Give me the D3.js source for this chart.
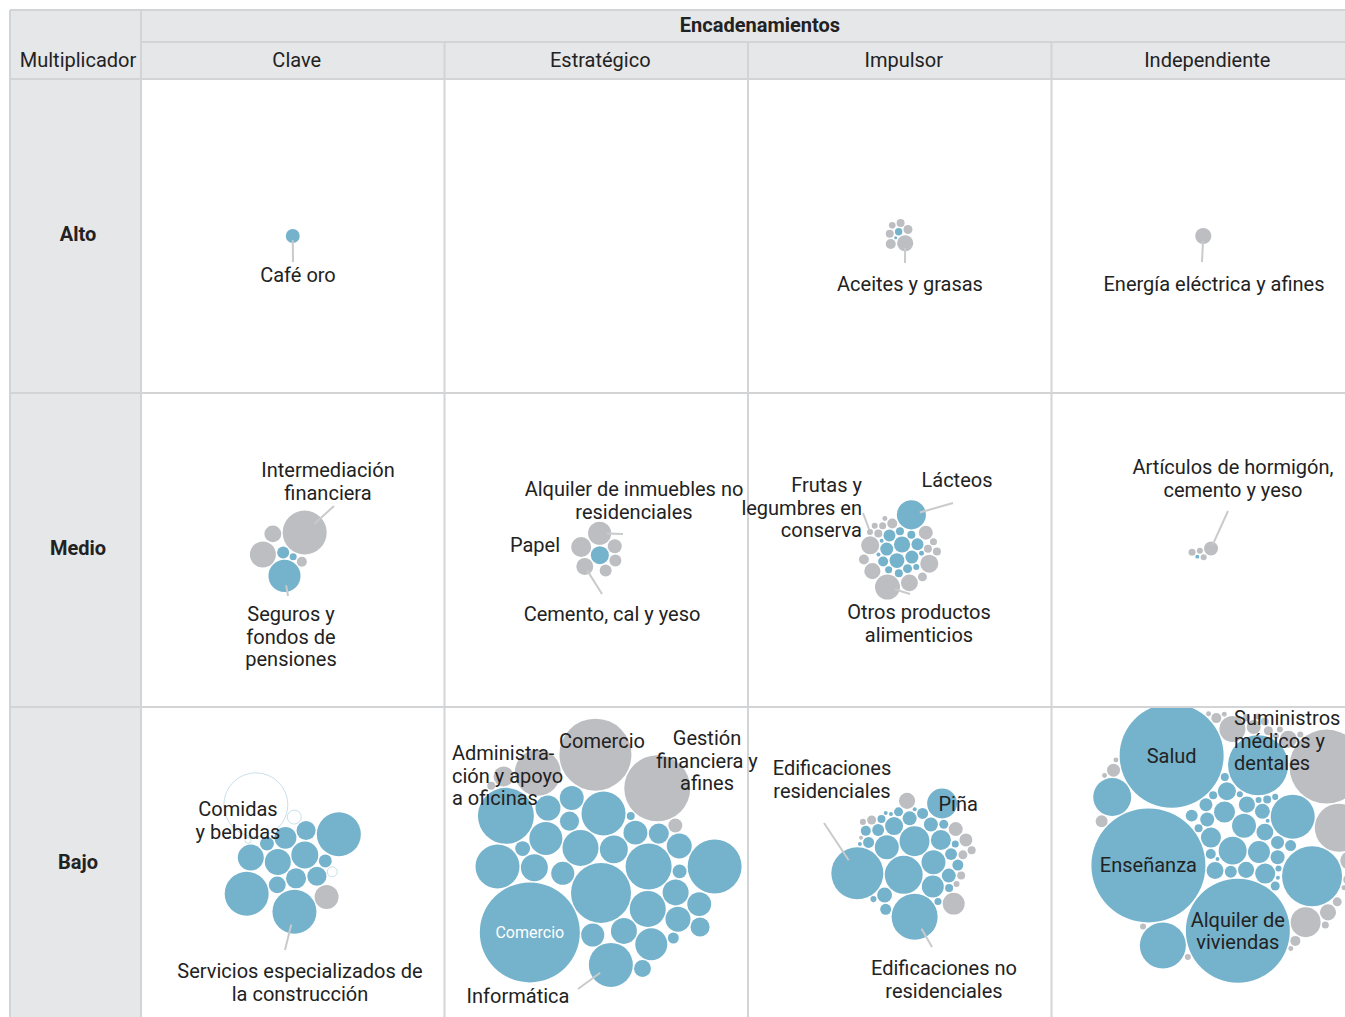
<!DOCTYPE html>
<html>
<head>
<meta charset="utf-8">
<script src="https://cdn.jsdelivr.net/npm/d3@7"></script>
<style>
body { margin: 0; background: #fff; }
text { font-family: Roboto, "Noto Sans", sans-serif; fill: #222; }
</style>
</head>
<body>
<svg id="chart" width="1345" height="1017"></svg>
<script>
const filas = ["Alto", "Medio", "Bajo"];
const columnas = ["Clave", "Estratégico", "Impulsor", "Independiente"];

// [sector, valor, tipo]  b = azul, g = gris, w = en transición (blanco)
const altoClave = [["Café oro", 1.5, "b"]];
const altoEstrategico = [];
const altoImpulsor = [["", 0.42, "b"], ["", 0.07, "b"], ["", 0.77, "g"], ["", 0.49, "g"], ["", 0.34, "g"], ["", 0.49, "g"], ["", 0.62, "g"], ["Aceites y grasas", 2.0, "g"]];
const altoIndependiente = [["Energía eléctrica y afines", 2.0, "g"]];

const medioClave = [["", 1.1, "b"], ["", 0.38, "b"], ["Seguros y fondos de pensiones", 7.9, "b"], ["Intermediación financiera", 14.9, "g"], ["", 5.2, "g"], ["", 2.2, "g"], ["", 0.77, "g"]];
const medioEstrategico = [["", 2.5, "b"], ["Alquiler de inmuebles no residenciales", 4.1, "g"], ["", 1.1, "g"], ["Cemento, cal y yeso", 2.2, "g"], ["", 1.5, "g"], ["Papel", 3.1, "g"], ["", 1.1, "g"]];
const medioImpulsor = [
    ["", 2.0, "b"], ["", 1.7, "b"], ["", 1.3, "b"], ["", 1.3, "b"], ["", 1.1, "b"], ["", 1.1, "b"], ["", 0.77, "b"], ["", 0.62, "b"],
    ["", 0.49, "b"], ["", 0.49, "b"], ["", 0.49, "b"], ["", 0.38, "b"], ["", 0.28, "b"], ["", 0.19, "b"], ["", 0.12, "b"], ["", 0.12, "b"], ["Lácteos", 6.5, "b"],
    ["Otros productos alimenticios", 4.8, "g"], ["", 2.5, "g"], ["", 2.5, "g"], ["", 2.2, "g"], ["", 2.0, "g"], ["", 1.5, "g"], ["", 0.77, "g"], ["", 0.77, "g"],
    ["", 0.62, "g"], ["", 0.49, "g"], ["", 0.49, "g"], ["", 0.49, "g"], ["", 0.38, "g"], ["", 0.38, "g"], ["Frutas y legumbres en conserva", 0.28, "g"], ["", 0.28, "g"], ["", 0.19, "g"]
];
const medioIndependiente = [["", 0.12, "b"], ["", 0.28, "g"], ["", 0.28, "g"], ["", 0.38, "g"], ["Artículos de hormigón, cemento y yeso", 1.5, "g"]];

const bajoClave = [
    ["", 5.6, "b"], ["", 5.2, "b"], ["", 3.7, "b"], ["", 3.1, "b"], ["", 2.8, "b"], ["", 2.8, "b"], ["", 2.2, "b"], ["", 1.5, "b"], ["", 1.3, "b"], ["", 5.2, "b"],
    ["", 14.9, "b"], ["", 14.9, "b"], ["Servicios especializados de la construcción", 14.9, "b"],
    ["", 4.4, "g"],
    ["Comidas y bebidas", 31.5, "w"], ["", 1.5, "w"], ["", 0.77, "w"], ["", 0.28, "w"]
];
const bajoEstrategico = [
    ["", 27.7, "b"], ["", 16.3, "b"], ["", 10, "b"], ["", 10, "b"], ["", 8.4, "b"], ["", 7.9, "b"], ["", 6.0, "b"], ["", 5.2, "b"],
    ["", 5.2, "b"], ["", 5.6, "b"], ["", 4.8, "b"], ["", 4.8, "b"], ["", 4.8, "b"], ["", 4.4, "b"], ["", 4.4, "b"], ["", 4.4, "b"],
    ["", 4.1, "b"], ["", 4.1, "b"], ["", 3.1, "b"], ["", 2.8, "b"], ["", 2.8, "b"], ["", 2.2, "b"], ["", 1.7, "b"], ["", 1.5, "b"],
    ["", 0.93, "b"], ["", 0.49, "b"], ["", 24.1, "b"], ["", 22.4, "b"], ["", 14.9, "b"], ["Informática", 14.9, "b"], ["", 14.9, "b"],
    ["Comercio", 77, "b"],
    ["Comercio", 39.9, "g"], ["Gestión financiera y afines", 33.5, "g"], ["Administración y apoyo a oficinas", 16.3, "g"], ["", 3.1, "g"], ["", 1.5, "g"], ["", 0.49, "g"]
];
const bajoImpulsor = [
    ["", 11.1, "b"], ["", 6.9, "b"], ["", 4.4, "b"], ["", 4.4, "b"], ["", 3.7, "b"], ["Edificaciones residenciales", 20.8, "b"], ["", 3.1, "b"], ["", 2.5, "b"],
    ["Edificaciones no residenciales", 16.3, "b"], ["", 1.7, "b"], ["", 1.5, "b"], ["", 1.5, "b"], ["", 1.5, "b"], ["", 1.1, "b"], ["", 1.1, "b"], ["", 0.93, "b"],
    ["", 0.93, "b"], ["", 0.93, "b"], ["", 0.93, "b"], ["", 0.77, "b"], ["", 0.62, "b"], ["", 0.62, "b"], ["", 0.49, "b"], ["", 0.49, "b"],
    ["", 0.38, "b"], ["", 0.38, "b"], ["", 0.28, "b"], ["", 0.12, "b"], ["", 0.12, "b"], ["", 0.12, "b"], ["", 0.12, "b"], ["Piña", 6.9, "b"],
    ["", 3.7, "g"], ["", 2.0, "g"], ["", 1.5, "g"], ["", 1.3, "g"], ["", 0.62, "g"], ["", 0.62, "g"], ["", 0.49, "g"], ["", 0.49, "g"],
    ["", 0.28, "g"], ["", 0.28, "g"], ["", 0.12, "g"]
];
const bajoIndependiente = [
    ["", 6.0, "b"], ["", 4.4, "b"], ["", 3.7, "b"], ["", 3.4, "b"], ["", 3.1, "b"], ["", 3.1, "b"], ["", 2.5, "b"], ["", 2.2, "b"],
    ["", 2.2, "b"], ["", 2.0, "b"], ["", 2.0, "b"], ["", 1.7, "b"], ["", 1.5, "b"], ["", 1.5, "b"], ["", 1.3, "b"], ["", 1.3, "b"],
    ["", 1.1, "b"], ["", 1.1, "b"], ["", 0.93, "b"], ["", 0.77, "b"], ["", 0.62, "b"], ["", 0.49, "b"], ["", 0.49, "b"], ["", 0.49, "b"],
    ["", 0.49, "b"], ["", 0.28, "b"], ["", 0.28, "b"], ["", 0.28, "b"], ["", 0.28, "b"], ["", 0.12, "b"], ["", 0.12, "b"], ["", 0.12, "b"],
    ["Salud", 83.2, "b"], ["Enseñanza", 100, "b"], ["Alquiler de viviendas", 83.2, "b"],
    ["", 27.7, "b"], ["", 27.7, "b"], ["", 16.3, "b"], ["", 14.9, "b"], ["", 11.1, "b"],
    ["Suministros médicos y dentales", 42.1, "g"], ["", 17.7, "g"], ["", 6.9, "g"], ["", 5.2, "g"], ["", 2.5, "g"], ["", 2.5, "g"], ["", 2.2, "g"], ["", 2.0, "g"],
    ["", 1.5, "g"], ["", 1.3, "g"], ["", 1.1, "g"], ["", 0.93, "g"], ["", 0.77, "g"], ["", 0.77, "g"], ["", 0.62, "g"], ["", 0.62, "g"],
    ["", 0.49, "g"], ["", 0.49, "g"], ["", 0.49, "g"], ["", 0.38, "g"], ["", 0.38, "g"], ["", 0.28, "g"], ["", 0.28, "g"], ["", 0.28, "g"],
    ["", 0.28, "g"], ["", 0.28, "g"], ["", 0.28, "g"], ["", 0.19, "g"], ["", 0.19, "g"], ["", 0.19, "g"], ["", 0.19, "g"], ["", 0.19, "g"], ["", 0.19, "g"]
];

const celdas = [
    { id: "altoClave", fila: "Alto", col: "Clave", datos: altoClave },
    { id: "altoEstrategico", fila: "Alto", col: "Estratégico", datos: altoEstrategico },
    { id: "altoImpulsor", fila: "Alto", col: "Impulsor", datos: altoImpulsor },
    { id: "altoIndependiente", fila: "Alto", col: "Independiente", datos: altoIndependiente },
    { id: "medioClave", fila: "Medio", col: "Clave", datos: medioClave },
    { id: "medioEstrategico", fila: "Medio", col: "Estratégico", datos: medioEstrategico },
    { id: "medioImpulsor", fila: "Medio", col: "Impulsor", datos: medioImpulsor },
    { id: "medioIndependiente", fila: "Medio", col: "Independiente", datos: medioIndependiente },
    { id: "bajoClave", fila: "Bajo", col: "Clave", datos: bajoClave },
    { id: "bajoEstrategico", fila: "Bajo", col: "Estratégico", datos: bajoEstrategico },
    { id: "bajoImpulsor", fila: "Bajo", col: "Impulsor", datos: bajoImpulsor },
    { id: "bajoIndependiente", fila: "Bajo", col: "Independiente", datos: bajoIndependiente }
];

// hacia dónde mira cada sector nombrado respecto al centro del grupo (grados)
const orientacion = {
    altoImpulsor: [["Aceites y grasas", 53]],
    medioClave: [["Intermediación financiera", -56], ["Seguros y fondos de pensiones", 108]],
    medioEstrategico: [["Papel", 186], ["Alquiler de inmuebles no residenciales", -9], ["Cemento, cal y yeso", 67]],
    medioImpulsor: [["Lácteos", -41], ["Otros productos alimenticios", 72], ["Frutas y legumbres en conserva", -144]],
    medioIndependiente: [["Artículos de hormigón, cemento y yeso", -11]],
    bajoClave: [["Servicios especializados de la construcción", 100], ["Comidas y bebidas", -134]],
    bajoEstrategico: [["Comercio", 166, "b"], ["Informática", 82], ["Comercio", -85, "g"], ["Gestión financiera y afines", -59], ["Administración y apoyo a oficinas", -109]],
    bajoImpulsor: [["Edificaciones residenciales", 188], ["Edificaciones no residenciales", 44], ["Piña", -44]],
    bajoIndependiente: [["Salud", -100], ["Enseñanza", 182], ["Alquiler de viviendas", 62], ["Suministros médicos y dentales", -60]]
};
// celdas donde los grises rodean al bloque azul
const anillos = { bajoEstrategico: 0.9 };
// atracción hacia el centro por tipo al compactar el grupo
const tirones = {
    altoImpulsor: { b: 0.3, g: 0.05 },
    medioEstrategico: { b: 0.3, g: 0.05 },
    bajoEstrategico: { b: 0.04, g: 0.05 },
    bajoIndependiente: { b: 0.04, g: 0.04 }
};
// pequeño corrimiento del grupo dentro de su celda
const corrimientos = { bajoIndependiente: [30, -28], bajoImpulsor: [10, -4] };

// etiquetas: x/y = centro de la primera línea
const anotaciones = [
    { celda: "altoClave", nombre: "Café oro", texto: ["Café oro"], x: 298, y: 275, fin: [293, 262] },
    { celda: "altoImpulsor", nombre: "Aceites y grasas", texto: ["Aceites y grasas"], x: 910, y: 284, fin: [905, 263] },
    { celda: "altoIndependiente", nombre: "Energía eléctrica y afines", texto: ["Energía eléctrica y afines"], x: 1214, y: 284, fin: [1202, 262] },
    { celda: "medioClave", nombre: "Intermediación financiera", texto: ["Intermediación", "financiera"], x: 328, y: 470, fin: [334, 506] },
    { celda: "medioClave", nombre: "Seguros y fondos de pensiones", texto: ["Seguros y", "fondos de", "pensiones"], x: 291, y: 614, fin: [288, 596] },
    { celda: "medioEstrategico", nombre: "Alquiler de inmuebles no residenciales", texto: ["Alquiler de inmuebles no", "residenciales"], x: 634, y: 489, fin: [623, 534] },
    { celda: "medioEstrategico", nombre: "Papel", texto: ["Papel"], x: 560, y: 545, anchor: "end" },
    { celda: "medioEstrategico", nombre: "Cemento, cal y yeso", texto: ["Cemento, cal y yeso"], x: 612, y: 614, fin: [602, 594] },
    { celda: "medioImpulsor", nombre: "Frutas y legumbres en conserva", texto: ["Frutas y", "legumbres en", "conserva"], x: 862, y: 485, anchor: "end", fin: [863, 513] },
    { celda: "medioImpulsor", nombre: "Lácteos", texto: ["Lácteos"], x: 957, y: 480, fin: [953, 503] },
    { celda: "medioImpulsor", nombre: "Otros productos alimenticios", texto: ["Otros productos", "alimenticios"], x: 919, y: 612, fin: [910, 594] },
    { celda: "medioIndependiente", nombre: "Artículos de hormigón, cemento y yeso", texto: ["Artículos de hormigón,", "cemento y yeso"], x: 1233, y: 467, fin: [1228, 511] },
    { celda: "bajoClave", nombre: "Comidas y bebidas", texto: ["Comidas", "y bebidas"], x: 238, y: 809 },
    { celda: "bajoClave", nombre: "Servicios especializados de la construcción", texto: ["Servicios especializados de", "la construcción"], x: 300, y: 971, fin: [285, 950] },
    { celda: "bajoEstrategico", nombre: "Administración y apoyo a oficinas", texto: ["Administra-", "ción y apoyo", "a oficinas"], x: 452, y: 753, anchor: "start" },
    { celda: "bajoEstrategico", nombre: "Comercio", tipo: "g", texto: ["Comercio"], x: 602, y: 741 },
    { celda: "bajoEstrategico", nombre: "Gestión financiera y afines", texto: ["Gestión", "financiera y", "afines"], x: 707, y: 738 },
    { celda: "bajoEstrategico", nombre: "Comercio", tipo: "b", texto: ["Comercio"], interior: true, blanco: true },
    { celda: "bajoEstrategico", nombre: "Informática", texto: ["Informática"], x: 518, y: 996, fin: [578, 989] },
    { celda: "bajoImpulsor", nombre: "Edificaciones residenciales", texto: ["Edificaciones", "residenciales"], x: 832, y: 768, fin: [824, 823] },
    { celda: "bajoImpulsor", nombre: "Piña", texto: ["Piña"], interior: true, dx: 16 },
    { celda: "bajoImpulsor", nombre: "Edificaciones no residenciales", texto: ["Edificaciones no", "residenciales"], x: 944, y: 968, fin: [932, 947] },
    { celda: "bajoIndependiente", nombre: "Salud", texto: ["Salud"], interior: true },
    { celda: "bajoIndependiente", nombre: "Suministros médicos y dentales", texto: ["Suministros", "médicos y", "dentales"], x: 1234, y: 718, anchor: "start" },
    { celda: "bajoIndependiente", nombre: "Enseñanza", texto: ["Enseñanza"], interior: true },
    { celda: "bajoIndependiente", nombre: "Alquiler de viviendas", texto: ["Alquiler de", "viviendas"], interior: true }
];

const azul = "#75b2cc";
const grisCirculo = "#bdbec2";
const fondoGris = "#e6e7e9";
const linea = "#d3d4d6";

const svg = d3.select("#chart");
const x = d3.scaleBand().domain(columnas).range([141, 1355]);
const y = d3.scaleBand().domain(filas).range([79, 1021]);
const rScale = d3.scaleSqrt().domain([0, 100]).range([0, 57]);
const pad = 0.7;

// fondos de cabecera
svg.append("rect").attr("x", 10).attr("y", 10).attr("width", 1335).attr("height", 69).attr("fill", fondoGris);
svg.append("rect").attr("x", 10).attr("y", 79).attr("width", 131).attr("height", 942).attr("fill", fondoGris);

function hline(y0, x0, x1, color) {
    svg.append("line").attr("x1", x0).attr("x2", x1).attr("y1", y0).attr("y2", y0)
        .attr("stroke", color).attr("stroke-width", 2);
}
function vline(x0, y0, y1, color) {
    svg.append("line").attr("x1", x0).attr("x2", x0).attr("y1", y0).attr("y2", y1)
        .attr("stroke", color).attr("stroke-width", 2);
}

hline(10, 10, 1345, linea);
hline(42, 141, 1345, linea);
hline(79, 10, 1345, linea);
filas.slice(1).forEach(f => hline(y(f), 10, 1345, linea));
vline(10, 10, 1017, linea);
vline(141, 10, 1017, linea);
columnas.slice(1).forEach(c => vline(x(c), 42, 1017, linea));

// textos de cabecera
svg.append("text").attr("x", 760).attr("y", 25).attr("dy", "0.35em").attr("text-anchor", "middle")
    .attr("font-size", 20).attr("font-weight", "bold").text("Encadenamientos");
svg.append("text").attr("x", 78).attr("y", 60).attr("dy", "0.35em").attr("text-anchor", "middle")
    .attr("font-size", 20).text("Multiplicador");
columnas.forEach(c => {
    svg.append("text").attr("x", x(c) + x.bandwidth() / 2 + 4).attr("y", 60).attr("dy", "0.35em")
        .attr("text-anchor", "middle").attr("font-size", 20).text(c);
});
filas.forEach(f => {
    svg.append("text").attr("x", 78).attr("y", y(f) + y.bandwidth() / 2 - 2).attr("dy", "0.35em")
        .attr("text-anchor", "middle").attr("font-size", 20).attr("font-weight", "bold").text(f);
});

function buscar(nodos, nombre, tipo) {
    return nodos.find(n => n.nombre === nombre && (!tipo || n.tipo === tipo));
}

// elige giro (y espejo) que mejor coloca los sectores nombrados
function orientar(nodos, objetivos) {
    let mejor = { espejo: false, ang: 0, err: Infinity };
    [false, true].forEach(espejo => {
        let s = 0, c = 0, difs = [];
        objetivos.forEach(o => {
            let n = buscar(nodos, o[0], o[2]);
            if (!n) return;
            let a = Math.atan2(espejo ? -n.py : n.py, n.px);
            let d = o[1] * Math.PI / 180 - a;
            difs.push(d); s += Math.sin(d); c += Math.cos(d);
        });
        if (difs.length === 0) {
            if (!espejo) mejor = { espejo: false, ang: 0, err: 0 };
            return;
        }
        let m = Math.atan2(s, c);
        let err = d3.sum(difs, d => 1 - Math.cos(d - m));
        if (err < mejor.err - 1e-9) mejor = { espejo: espejo, ang: m, err: err };
    });
    return mejor;
}

function girar(nodos, o) {
    nodos.forEach(n => {
        let py = o.espejo ? -n.py : n.py;
        let px = n.px;
        n.px = px * Math.cos(o.ang) - py * Math.sin(o.ang);
        n.py = px * Math.sin(o.ang) + py * Math.cos(o.ang);
    });
}

function centrar(nodos, ref) {
    let enc = d3.packEnclose(ref.map(n => ({ x: n.x, y: n.y, r: n.r })));
    nodos.forEach(n => { n.px = n.x - enc.x; n.py = n.y - enc.y; });
}

function relajar(nodos, fuerza) {
    nodos.forEach(n => { n.x = n.px; n.y = n.py; n.vx = 0; n.vy = 0; });
    let sim = d3.forceSimulation(nodos)
        .force("x", d3.forceX(0).strength(d => fuerza[d.tipo] || 0.02))
        .force("y", d3.forceY(0).strength(d => fuerza[d.tipo] || 0.02))
        .force("choque", d3.forceCollide(d => d.r).strength(1).iterations(4))
        .stop();
    for (let i = 0; i < 300; i++) sim.tick();
    nodos.forEach(n => { n.px = n.x; n.py = n.y; });
}

function empaquetar(celda) {
    let nodos = celda.datos.map(d => ({ nombre: d[0], valor: d[1], tipo: d[2], r: rScale(d[1]) + pad }));
    if (nodos.length === 0) return nodos;
    let objetivos = orientacion[celda.id] || [];
    let factor = anillos[celda.id];
    if (factor) {
        let azules = nodos.filter(n => n.tipo !== "g");
        let grises = nodos.filter(n => n.tipo === "g");
        d3.packSiblings(azules);
        centrar(azules, azules);
        girar(azules, orientar(azules, objetivos));
        let e = d3.packEnclose(azules.map(n => ({ x: n.px, y: n.py, r: n.r })));
        let bloque = { r: e.r * factor };
        d3.packSiblings([bloque].concat(grises));
        grises.forEach(n => { n.px = n.x - bloque.x + e.x; n.py = n.y - bloque.y + e.y; });
        let og = orientar(grises.map(n => ({ nombre: n.nombre, tipo: n.tipo, px: n.px - e.x, py: n.py - e.y })), objetivos);
        grises.forEach(n => { n.px -= e.x; n.py -= e.y; });
        girar(grises, og);
        grises.forEach(n => { n.px += e.x; n.py += e.y; });
    } else {
        d3.packSiblings(nodos);
        nodos.forEach(n => { n.px = n.x; n.py = n.y; });
    }
    if (tirones[celda.id]) relajar(nodos, tirones[celda.id]);
    nodos.forEach(n => { n.x = n.px; n.y = n.py; });
    centrar(nodos, nodos.filter(n => n.tipo !== "w"));
    if (!factor) girar(nodos, orientar(nodos, objetivos));

    let corr = corrimientos[celda.id] || [0, 0];
    let cx = x(celda.col) + x.bandwidth() / 2 + corr[0];
    let cy = y(celda.fila) + y.bandwidth() / 2 + corr[1];
    nodos.forEach(n => {
        n.x = cx + n.px;
        n.y = cy + n.py;
        n.r = n.r - pad;
    });
    return nodos;
}

const nodosPorCelda = {};
const capaCirculos = svg.append("g");
celdas.forEach(celda => {
    let nodos = empaquetar(celda);
    nodosPorCelda[celda.id] = nodos;
    let clipId = "clip-" + celda.id;
    svg.append("clipPath").attr("id", clipId).append("rect")
        .attr("x", x(celda.col) + 1).attr("y", y(celda.fila) + 1)
        .attr("width", x.bandwidth() - 2).attr("height", y.bandwidth() - 2);
    // los círculos en transición van detrás
    let orden = nodos.filter(n => n.tipo === "w").concat(nodos.filter(n => n.tipo !== "w"));
    capaCirculos.append("g").attr("clip-path", "url(#" + clipId + ")")
        .selectAll("circle").data(orden).join("circle")
        .attr("cx", d => d.x).attr("cy", d => d.y).attr("r", d => d.r)
        .attr("fill", d => d.tipo === "b" ? azul : d.tipo === "g" ? grisCirculo : "#fff")
        .attr("stroke", d => d.tipo === "w" ? "#b9d8e6" : "none")
        .attr("stroke-width", 0.8);
});

const capaLineas = svg.append("g");
const capaTextos = svg.append("g");
anotaciones.forEach(a => {
    let c = buscar(nodosPorCelda[a.celda], a.nombre, a.tipo);
    let lx = a.x, ly = a.y;
    if (a.interior && c) {
        lx = c.x + (a.dx || 0);
        ly = c.y - (a.texto.length - 1) * 11;
    }
    if (a.fin && c) {
        let dx = a.fin[0] - c.x, dy = a.fin[1] - c.y;
        let dist = Math.sqrt(dx * dx + dy * dy);
        if (dist > 0) {
            let k = Math.min(c.r * 0.6, dist) / dist;
            capaLineas.append("line")
                .attr("x1", c.x + dx * k).attr("y1", c.y + dy * k)
                .attr("x2", a.fin[0]).attr("y2", a.fin[1])
                .attr("stroke", "#c9cacc").attr("stroke-width", 2);
        }
    }
    let t = capaTextos.append("text").attr("text-anchor", a.anchor || "middle")
        .attr("font-size", a.blanco ? 16 : 20);
    if (a.blanco) t.style("fill", "#fff");
    a.texto.forEach((linea, i) => {
        t.append("tspan").attr("x", lx).attr("y", ly + i * 22.5).attr("dy", "0.35em").text(linea);
    });
});
</script>
</body>
</html>
